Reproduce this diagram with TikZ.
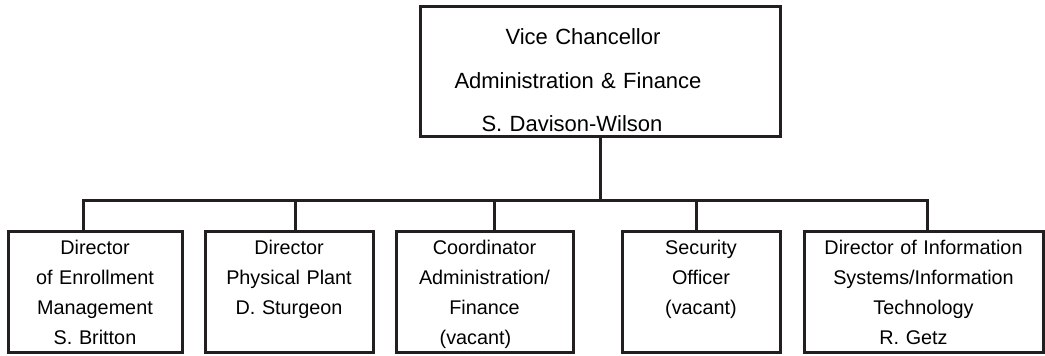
\documentclass[tikz,border=0pt]{standalone}
\usepackage{fontspec}
\setmainfont{Liberation Sans}
\usepackage{tikz}
\usetikzlibrary{positioning}
\definecolor{ink}{RGB}{35,31,32}

\begin{document}
\begin{tikzpicture}[x=1pt,y=1pt,
	office/.style={rectangle, draw=ink, line width=1.5pt, align=center, inner xsep=2pt, inner ysep=4pt, text width=#1, font=\fontsize{9.9}{15}\selectfont, text height=7.5pt, text depth=45pt},
	link/.style={draw=ink, line width=1.5pt}]
	\useasboundingbox (0,0) rectangle (522.5,-178);
	% Vice chancellor at the top
	\node (vc) [office=176pt, anchor=north west, font=\fontsize{11}{21.75}\selectfont, text height=15pt, text depth=42pt] at (209.25,-2.75) {Vice Chancellor\rule{17pt}{0pt}\\Administration \& Finance\rule{22pt}{0pt}\\S. Davison-Wilson\rule{28pt}{0pt}};
	
	% The five offices below
	\node (enroll) [office=83pt, anchor=north west] at (3.25,-115.25) {Director\\of Enrollment\\Management\\S. Britton};
	\node (plant) [office=80pt, right=10pt of enroll] {Director\\Physical Plant\\D. Sturgeon};
	\node (coord) [office=84.5pt, right=10pt of plant] {Coordinator\\Administration/\\Finance\\(vacant)\rule{9pt}{0pt}};
	\node (security) [office=75pt, right=23pt of coord] {Security\\Officer\\(vacant)};
	\node (infotech) [office=115.5pt, right=10.5pt of security] {Director of Information\\Systems/Information\\Technology\\R. Getz\rule{10pt}{0pt}};
	
	% Joining the offices to the bus line
	\coordinate (bus) at ([yshift=-31.25pt]vc.south);
	\draw[link] (vc.south) -- (bus);
	\draw[link] ([xshift=-6pt]enroll.north) |- (bus);
	\draw[link] ([xshift=3pt]plant.north) |- (bus);
	\draw[link] ([xshift=5pt]coord.north) |- (bus);
	\draw[link] ([xshift=-2.5pt]security.north) |- (bus);
	\draw[link] ([xshift=2pt]infotech.north) |- (bus);
\end{tikzpicture}
\end{document}
